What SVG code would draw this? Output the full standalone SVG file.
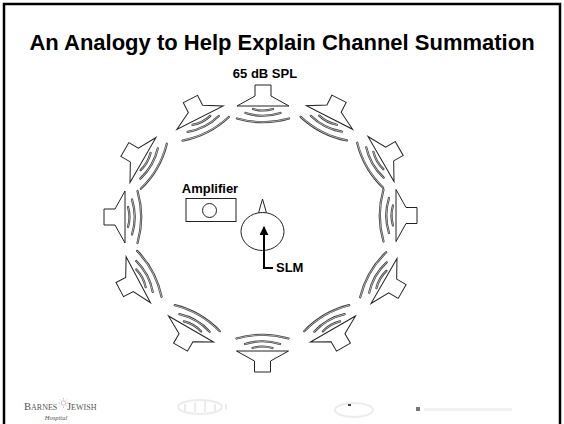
<svg xmlns="http://www.w3.org/2000/svg" xmlns:xlink="http://www.w3.org/1999/xlink" width="564" height="424" viewBox="0 0 564 424">
  <style>
    .lbl { font-family: "Liberation Sans", Arial, sans-serif; font-weight: bold; fill: #000; }
    .outline { fill: #fff; stroke: #222; stroke-width: 1; stroke-linejoin: miter; }
    .wave { fill: none; stroke: #3a3a3a; stroke-width: 2.2; stroke-linecap: round; }
    .wave-in { fill: none; stroke: #c4c4c4; stroke-width: 0.8; stroke-linecap: round; }
    .logo { font-family: "Liberation Serif", "Times New Roman", serif; fill: #555; }
    .faint { fill: none; stroke: #e8e8e8; stroke-width: 2; }
  </style>
  <defs>
    <!-- loudspeaker: mouth centred on the origin, horn behind it (-y), sound waves in front (+y) -->
    <g id="speaker">
      <path class="outline" d="M-8,-21 H8 V-10 L26,0 H-26 L-8,-10 Z"/>
      <path class="wave" d="M-10,3 Q0,6 10,3 M-17.5,7 Q0,12.5 17.5,7 M-26,12.5 Q0,20 26,12.5"/>
      <path class="wave-in" d="M-10,3 Q0,6 10,3 M-17.5,7 Q0,12.5 17.5,7 M-26,12.5 Q0,20 26,12.5"/>
    </g>
    <marker id="arrowhead" viewBox="0 0 10 10" refX="9" refY="5" markerWidth="4.5" markerHeight="4.5" orient="auto">
      <path d="M0,0 L10,5 L0,10 Z" fill="#000"/>
    </marker>
  </defs>

  <rect width="564" height="424" fill="#fff"/>
  <!-- slide frame (bottom edge runs off the page) -->
  <rect x="4" y="4" width="556" height="430" fill="none" stroke="#000" stroke-width="2.5"/>

  <text class="lbl" x="282" y="50" font-size="22" text-anchor="middle">An Analogy to Help Explain Channel Summation</text>

  <!-- ring of twelve loudspeakers, all facing the meter -->
  <g id="speakers">
    <g id="spk-00"><use xlink:href="#speaker" transform="translate(263,106) rotate(0)"/></g>
    <g id="spk-01"><use xlink:href="#speaker" transform="translate(329.5,117.5) rotate(27)"/></g>
    <g id="spk-02"><use xlink:href="#speaker" transform="translate(381,159) rotate(60)"/></g>
    <g id="spk-03"><use xlink:href="#speaker" transform="translate(396,215.5) rotate(90)"/></g>
    <g id="spk-04"><use xlink:href="#speaker" transform="translate(384,281) rotate(120)"/></g>
    <g id="spk-05"><use xlink:href="#speaker" transform="translate(333,329) rotate(150)"/></g>
    <g id="spk-06"><use xlink:href="#speaker" transform="translate(262.5,351) rotate(180)"/></g>
    <g id="spk-07"><use xlink:href="#speaker" transform="translate(191,329) rotate(210)"/></g>
    <g id="spk-08"><use xlink:href="#speaker" transform="translate(138.3,279.7) rotate(242)"/></g>
    <g id="spk-09"><use xlink:href="#speaker" transform="translate(125,217) rotate(270)"/></g>
    <g id="spk-10"><use xlink:href="#speaker" transform="translate(143,160) rotate(300)"/></g>
    <g id="spk-11"><use xlink:href="#speaker" transform="translate(200,117.7) rotate(333)"/></g>
  </g>

  <g id="spl-label">
    <text class="lbl" x="265" y="78" font-size="13" text-anchor="middle">65 dB SPL</text>
  </g>

  <g id="amplifier">
    <text class="lbl" x="210" y="193" font-size="13" text-anchor="middle">Amplifier</text>
    <rect x="186" y="198.5" width="50" height="23" fill="#fff" stroke="#222" stroke-width="1"/>
    <circle cx="209.5" cy="210.5" r="7" fill="#fff" stroke="#222" stroke-width="1"/>
  </g>

  <g id="slm">
    <path d="M262.5,199 L258.5,213 L266.5,213 Z" fill="#fff" stroke="#222" stroke-width="1"/>
    <ellipse cx="262.5" cy="231.5" rx="21.5" ry="19" fill="#fff" stroke="#222" stroke-width="1"/>
    <text class="lbl" x="276" y="272" font-size="13">SLM</text>
  </g>

  <g id="connectors">
    <path d="M273,268 H264 V227" fill="none" stroke="#000" stroke-width="2" marker-end="url(#arrowhead)"/>
  </g>

  <!-- sponsor logos along the foot of the slide -->
  <g id="logos">
    <text class="logo" x="24" y="410" font-size="10.5">B<tspan font-size="8">ARNES</tspan></text>
    <g fill="none" stroke="#aaa" stroke-width="0.7">
      <circle cx="63.5" cy="403" r="2.2"/>
      <path d="M63.5,398 V399.5 M63.5,406.5 V408 M58.5,403 H60 M67,403 H68.5 M60,399.5 L61,400.5 M66,405.5 L67,406.5 M67,399.5 L66,400.5 M60,406.5 L61,405.5"/>
    </g>
    <text class="logo" x="67" y="410" font-size="10.5">J<tspan font-size="8">EWISH</tspan></text>
    <text class="logo" x="56" y="420" font-size="6.5" font-style="italic" text-anchor="middle">Hospital</text>
    <g opacity="0.8">
      <ellipse cx="200" cy="407" rx="22" ry="7" class="faint"/>
      <path class="faint" d="M185,404 V412 M195,402 V412 M205,401 V412 M215,404 V412 M226,404 V410"/>
      <ellipse cx="354" cy="410" rx="19" ry="7" class="faint"/>
    </g>
    <path d="M348,404 h3 v2 h-3 Z" fill="#444"/>
    <rect x="416" y="407" width="4" height="4" fill="#777"/>
    <rect x="424" y="408" width="88" height="3" fill="#f0f0f0"/>
  </g>
</svg>
